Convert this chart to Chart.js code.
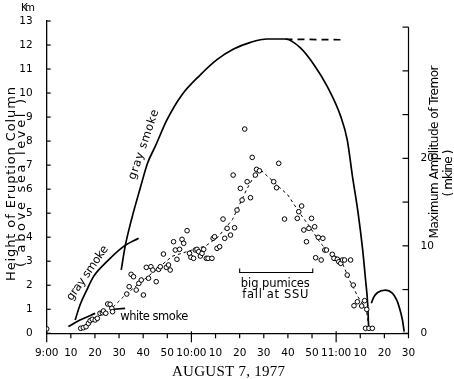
<!DOCTYPE html>
<html><head><meta charset="utf-8">
<script src="https://cdn.jsdelivr.net/npm/chart.js@4"></script>
<style>html,body{margin:0;padding:0;background:#fff}canvas{display:block}</style>
</head><body>
<canvas id="c" width="454" height="379"></canvas>
<script>
// x axis: minutes after 9:00 on August 7, 1977
const xTickLabels = ["9:00","10","20","30","40","50","10:00","10","20","30","40","50","11:00","10","20","30"];
const heightTickValues = [0,1,2,3,4,5,6,7,8,9,10,11,12,13];
const tremorTickLabels = {0:"0",10:"10",20:"20"};

// Maximum amplitude of tremor (mkine), open circles
const tremorTime = [0,14.1,15.2,16.3,17.3,18.0,18.9,20.1,21.0,22.1,23.1,23.5,24.5,25.3,26.3,27.0,27.3,33.2,34.2,35.0,36.0,37.1,38.2,39.2,40.1,41.3,42.2,43.2,44.0,45.4,46.4,47.1,48.4,49.6,50.5,51.2,52.6,53.3,54.0,55.1,56.1,56.8,58.2,59.2,59.8,60.9,61.6,62.3,63.0,63.7,64.4,65.1,66.2,66.9,68.5,69.0,69.6,70.6,71.7,73.1,73.8,74.8,76.2,77.3,77.9,78.9,80.3,81.0,82.1,83.1,84.5,85.2,86.5,87.0,88.2,94.1,95.3,96.2,98.6,103.9,104.5,105.7,106.6,107.7,108.7,109.8,111.1,111.5,112.6,113.8,114.5,115.3,116.0,118.4,119.1,120.5,121.1,121.9,122.6,123.5,124.6,126.0,127.1,127.4,128.8,130.6,131.8,132.7,132.2,133.6,135.0];
const tremorAmp = [0.5,0.57,0.64,0.75,1.14,1.44,1.6,1.52,1.71,2.29,2.35,2.55,2.29,3.35,3.31,2.86,2.47,4.49,5.33,6.74,6.47,4.95,5.71,6.09,4.38,7.54,6.29,7.61,7.23,5.9,7.31,7.61,9.06,7.54,7.81,7.23,10.47,9.52,8.46,9.6,10.74,10.29,11.73,9.14,8.69,8.57,9.52,9.6,9.33,8.83,9.14,9.6,8.57,8.57,8.57,10.86,11.04,9.71,9.9,13.06,10.86,12.0,11.23,18.09,12.07,14.09,16.57,15.23,23.35,17.33,15.5,20.11,18.09,18.74,18.58,17.33,16.64,19.43,13.06,13.14,13.9,14.55,11.81,10.47,12.0,13.14,12.18,8.64,10.97,8.38,10.86,9.52,9.52,9.03,8.57,8.46,8.18,8.0,8.38,8.38,6.66,8.38,5.52,3.15,3.61,3.12,3.73,2.74,0.57,0.57,0.57];

// dashed trend through the tremor amplitudes
const trendTime = [27.5,33,42,52,60,66,71,77,83,87.5,89,100,105,109,113.5,118,122,125.5,129,132.5,133.5];
const trendAmp  = [3.0,4.5,6.5,8.8,9.5,10.0,11.0,13.0,16.5,18.7,18.6,15.8,13.7,12.2,10.3,9.1,8.4,6.1,4.2,2.7,0.9];

// Height of eruption column (km above sea level)
const whiteSmokeTime = [9.0,13.8,20.1];
const whiteSmokeHeight = [0.28,0.55,0.83];
const whiteMarkTime = [27.7,32.5];
const whiteMarkHeight = [1.0,1.04];
const smoke1Time = [11.8,13.8,16.6,19.4,24.9,31.8,38.1];
const smoke1Height = [0.55,1.18,1.8,2.36,2.98,3.61,3.96];
const smoke2Time = [30.9,32.5,35.3,38.8,41.8,45.0,49.9,56.1,63.7,70.6,77.5,84.5,91.4,99.0,105.2,110.8,116.3,121.9,124.6,126.8,129.1,131.0,132.2,133.1,133.5];
const smoke2Height = [2.64,3.61,4.79,6.05,7.08,7.78,8.89,9.93,10.76,11.39,11.83,12.11,12.25,12.25,11.88,11.18,10.28,9.03,8.05,6.51,5.01,3.47,2.22,1.18,0.14];
const topDashTime = [99,122];
const topDashHeight = [12.24,12.22];
const smoke3Time = [134.6,135.6,137.2,140.5,143.3,145.1,146.1,147.5,148.2];
const smoke3Height = [1.25,1.51,1.7,1.8,1.67,1.39,1.11,0.55,0.07];

// big pumices fall at SSU (time range)
const pumiceTime = [80.0,110.3];

const pts = (xs, ys) => xs.map((x,i)=>({x, y: ys[i]}));
const SANS = 'DejaVu Sans';

function fitText(ctx, text, cx, cy, angle, width, font){
  ctx.save();
  ctx.font = font;
  ctx.letterSpacing = '0px';
  const w0 = ctx.measureText(text).width;
  const n = text.length;
  const ls = n > 1 ? (width - w0) / (n - 1) : 0;
  ctx.letterSpacing = ls + 'px';
  ctx.translate(cx, cy);
  ctx.rotate(angle * Math.PI / 180);
  ctx.textAlign = 'left';
  ctx.textBaseline = 'middle';
  ctx.fillStyle = '#000';
  ctx.fillText(text, -width/2, 0);
  ctx.restore();
}
function seg(ctx, x1, y1, x2, y2){ ctx.beginPath(); ctx.moveTo(x1,y1); ctx.lineTo(x2,y2); ctx.stroke(); }

const annot = {
  id: 'annot',
  afterDraw(chart){
    const {ctx, scales:{x, y, y2}} = chart;
    ctx.save();
    ctx.strokeStyle = '#000';
    ctx.lineWidth = 1.2;
    heightTickValues.forEach(v => { const py = y.getPixelForValue(v); seg(ctx, x.left, py, x.left + 4, py); });
    const rx = x.right;
    seg(ctx, rx, y2.getPixelForValue(0), rx, y2.getPixelForValue(35));
    [0,5,10,15,20,25,30,35].forEach(v => { const py = y2.getPixelForValue(v); seg(ctx, rx - 6, py, rx, py); });
    for (let m = 0; m <= 150; m += 10){
      const px = x.getPixelForValue(m);
      if (m % 60 === 0) seg(ctx, px, y.bottom - 2, px, y.bottom + 9);
      else seg(ctx, px, y.bottom, px, y.bottom + 5);
    }
    ctx.lineWidth = 1.1;
    const bx1 = x.getPixelForValue(pumiceTime[0]), bx2 = x.getPixelForValue(pumiceTime[1]);
    const by = y.getPixelForValue(2.53);
    ctx.beginPath(); ctx.moveTo(bx1, by - 4); ctx.lineTo(bx1, by); ctx.lineTo(bx2, by); ctx.lineTo(bx2, by - 4); ctx.stroke();
    ctx.restore();

    const f11 = '11.5px "' + SANS + '"';
    const cxm = (t) => x.getPixelForValue(t);
    const cyk = (h) => y.getPixelForValue(h);
    fitText(ctx, 'big pumices', cxm(94.8), cyk(2.05), 0, 69, f11);
    fitText(ctx, 'fall at SSU', cxm(94.8), cyk(1.58), 0, 66, f11);
    fitText(ctx, 'white smoke', cxm(44.6), cyk(0.69), 0, 68, f11);
    fitText(ctx, 'gray smoke', cxm(17.0), cyk(2.5), -55, 64, f11);
    fitText(ctx, 'gray smoke', cxm(40.3), cyk(7.85), -71, 73, f11);

    const ft = '13px "' + SANS + '"';
    const fr = '12px "' + SANS + '"';
    fitText(ctx, 'Height of Eruption Column', 11.5, 184, -90, 194, ft);
    fitText(ctx, '( above sea level )', 21.5, 183, -90, 168, ft);
    fitText(ctx, 'Km', 28, 8.5, 0, 14, '10.5px "' + SANS + '"');
    fitText(ctx, 'Maximum Amplitude of Tremor', 434.5, 152, -90, 173, fr);
    fitText(ctx, '( mkine )', 448.5, 173, -90, 47, fr);
    fitText(ctx, 'AUGUST 7, 1977', 228.5, 372, 0, 113, '15px "Liberation Serif"');
  }
};

const lineStyle = {showLine:true, pointRadius:0, borderColor:'#000', borderWidth:1.7, fill:false, yAxisID:'y'};

new Chart(document.getElementById('c'), {
  type: 'scatter',
  data: { datasets: [
    {label:'tremor', data: pts(tremorTime, tremorAmp), yAxisID:'y2', showLine:false, pointRadius:2.3, pointBorderWidth:1, pointBackgroundColor:'#fff', pointBorderColor:'#000'},
    {label:'trend', data: pts(trendTime, trendAmp), yAxisID:'y2', showLine:true, pointRadius:0, borderColor:'#000', borderWidth:1, borderDash:[3,3], tension:0},
    Object.assign({label:'white smoke', data: pts(whiteSmokeTime, whiteSmokeHeight), tension:0.3}, lineStyle),
    Object.assign({label:'white smoke mark', data: pts(whiteMarkTime, whiteMarkHeight), tension:0}, lineStyle),
    Object.assign({label:'gray smoke 1', data: pts(smoke1Time, smoke1Height), cubicInterpolationMode:'monotone'}, lineStyle),
    Object.assign({label:'gray smoke 2', data: pts(smoke2Time, smoke2Height), cubicInterpolationMode:'monotone'}, lineStyle),
    Object.assign({label:'top dash', data: pts(topDashTime, topDashHeight), tension:0, borderDash:[7,5]}, lineStyle),
    Object.assign({label:'gray smoke 3', data: pts(smoke3Time, smoke3Height), cubicInterpolationMode:'monotone'}, lineStyle)
  ]},
  options: {
    responsive:false, animation:false, devicePixelRatio:1,
    layout:{padding:{top:21, left:0, right:0, bottom:0}},
    plugins:{legend:{display:false}, tooltip:{enabled:false}},
    scales:{
      x:{type:'linear', position:'bottom', min:0, max:150,
        afterFit(s){ s.height = 45.7; },
        grid:{display:false}, border:{display:true, color:'#000', width:1.3},
        ticks:{stepSize:10, autoSkip:false, maxRotation:0, minRotation:0, padding:6, color:'#000',
          font:{family:SANS, size:10.5}, callback:(v)=>xTickLabels[Math.round(v/10)]}},
      y:{type:'linear', position:'left', min:0, max:13,
        afterFit(s){ s.width = 46.7; },
        grid:{display:false}, border:{display:true, color:'#000', width:1.3},
        ticks:{stepSize:1, padding:6, color:'#000', font:{family:SANS, size:10.5}}},
      y2:{type:'linear', position:'right', min:0, max:35.7,
        afterFit(s){ s.width = 45.5; },
        afterBuildTicks(s){ s.ticks = [0,5,10,15,20,25,30,35].map(v=>({value:v})); },
        grid:{display:false, drawOnChartArea:false}, border:{display:false},
        ticks:{padding:4, color:'#000', font:{family:SANS, size:10.5}, callback:(v)=>tremorTickLabels[v] || ''}}
    }
  },
  plugins:[annot]
});
</script>
</body></html>
